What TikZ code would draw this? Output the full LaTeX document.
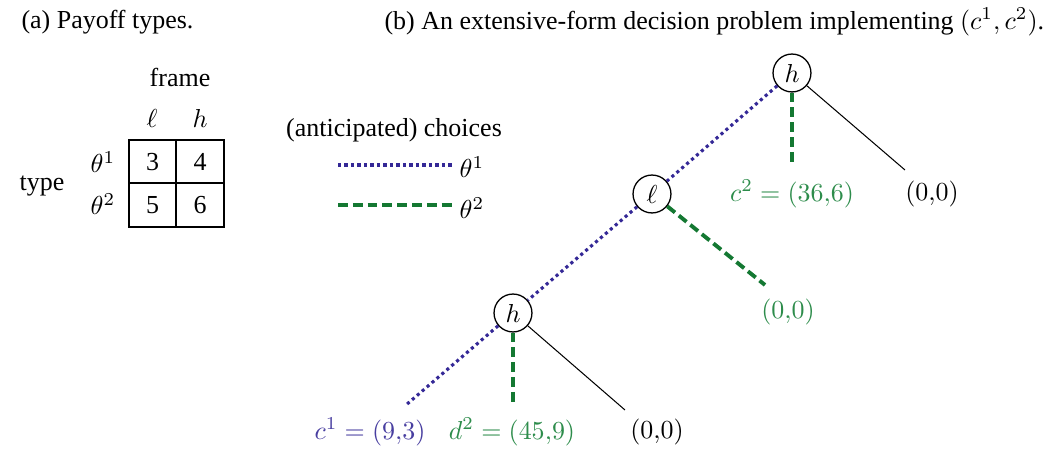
\documentclass[tikz,border=0pt]{standalone}
\usepackage{fontspec}
\setmainfont{Liberation Serif}
\definecolor{dblue}{RGB}{52,40,150}
\definecolor{lblue}{RGB}{72,62,160}
\definecolor{dgreen}{RGB}{20,120,50}
\definecolor{lgreen}{RGB}{45,140,75}
\begin{document}
\begin{tikzpicture}[x=0.385pt,y=-0.385pt,
  dec/.style={circle,draw,line width=0.5pt,minimum size=14.6pt,inner sep=0pt},
  bluedot/.style={draw=dblue,line width=1.2pt,dash pattern=on 1.2pt off 1.3pt},
  greendash/.style={draw=dgreen,line width=1.5pt,dash pattern=on 3.8pt off 1.9pt},
  plain/.style={draw=black,line width=0.4pt},
  lbl/.style={inner sep=0pt}]
\useasboundingbox (0,0) rectangle (1054,451);
% captions
\node[lbl,anchor=west] (capa) at (21,22) {(a) Payoff types.};
\node[lbl,anchor=west] (capb) at (384,22) {(b) An extensive-form decision problem implementing $(c^1,c^2)$.};
% table
\node[lbl] (frame) at (180,77) {frame};
\node[lbl] (cl) at (152,118) {$\ell$};
\node[lbl] (ch) at (200,118) {$h$};
\node[lbl] (t1) at (103,162) {$\theta^1$};
\node[lbl] (t2) at (103,204) {$\theta^2$};
\node[lbl] (type) at (42,186) {type};
\draw[plain] (129,140) rectangle (224,227);
\draw[plain] (129,183) -- (224,183);
\draw[plain] (176,140) -- (176,227);
\node[lbl] (v11) at (152.5,162) {3};
\node[lbl] (v12) at (200,162) {4};
\node[lbl] (v21) at (152.5,205) {5};
\node[lbl] (v22) at (200,205) {6};
% legend
\node[lbl] (ant) at (394,130) {(anticipated) choices};
\coordinate (lb1) at (338,165);
\coordinate (lb2) at (452,165);
\coordinate (lg1) at (338,205);
\coordinate (lg2) at (452,205);
\draw[bluedot] (lb1) -- (lb2);
\draw[greendash] (lg1) -- (lg2);
\node[lbl] (lt1) at (472,167) {$\theta^1$};
\node[lbl] (lt2) at (472,208) {$\theta^2$};
% tree
\node[dec] (n1) at (792,73) {$h$};
\node[dec] (n2) at (652,194) {$\ell$};
\node[dec] (n3) at (513,313) {$h$};
\coordinate (e1) at (792,165);
\coordinate (e2) at (905,170);
\coordinate (e3) at (765,285);
\coordinate (e4) at (406,405);
\coordinate (e5) at (513,403);
\coordinate (e6) at (625,410);
\draw[bluedot] (n1) -- (n2);
\draw[bluedot] (n2) -- (n3);
\draw[greendash] (n1) -- (e1);
\draw[plain] (n1) -- (e2);
\draw[greendash] (n2) -- (e3);
\draw[bluedot] (n3) -- (e4);
\draw[greendash] (n3) -- (e5);
\draw[plain] (n3) -- (e6);
\node[lbl,text=lgreen] (p1) at (792,194) {$c^2=(36{,}6)$};
\node[lbl] (p2) at (932,194) {$(0{,}0)$};
\node[lbl,text=lgreen] (p3) at (788,312) {$(0{,}0)$};
\node[lbl,text=lblue] (p4) at (370,432) {$c^1=(9{,}3)$};
\node[lbl,text=lgreen] (p5) at (512,432) {$d^2=(45{,}9)$};
\node[lbl] (p6) at (657,432) {$(0{,}0)$};
\end{tikzpicture}
\end{document}
